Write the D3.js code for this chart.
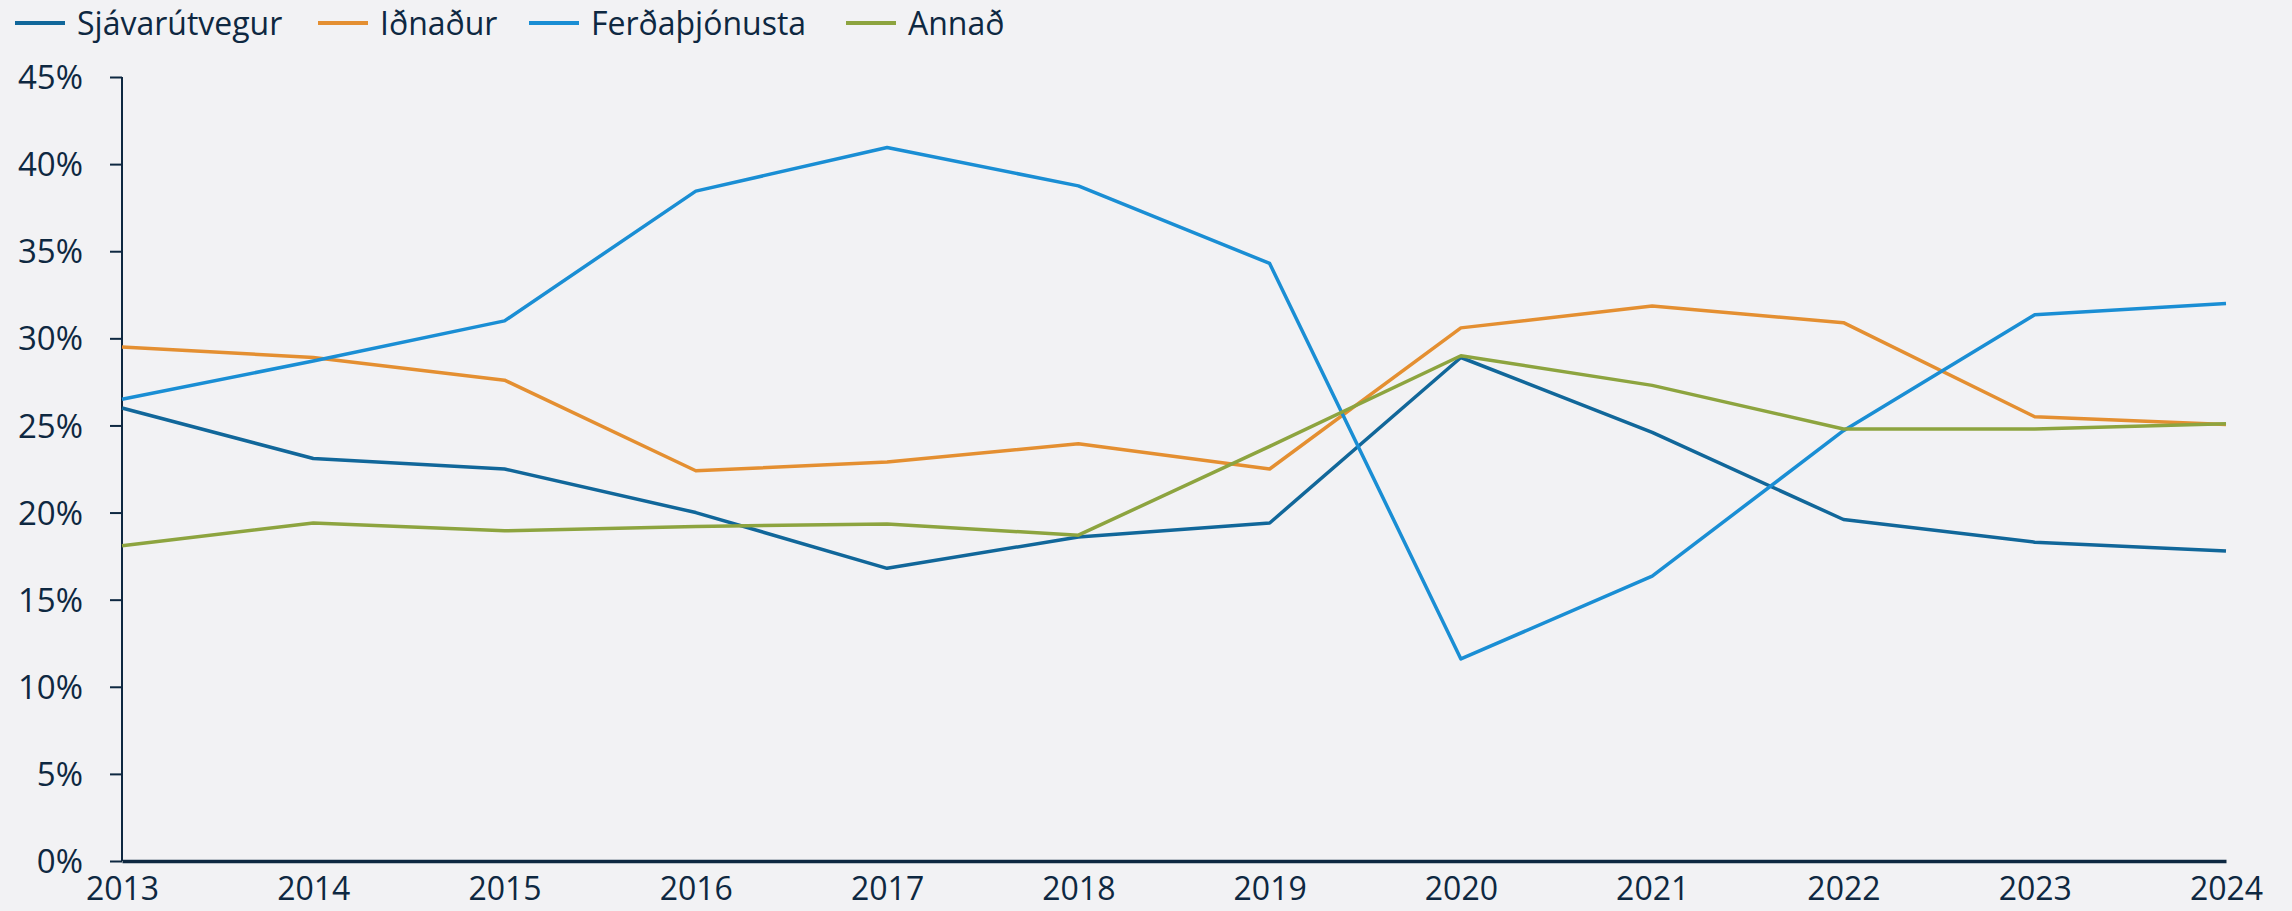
<!DOCTYPE html>
<html>
<head>
<meta charset="utf-8">
<script src="https://cdn.jsdelivr.net/npm/d3@7"></script>
<style>
  html, body { margin: 0; padding: 0; background: #f2f2f4; }
  svg { display: block; }
  text { font-family: "Open Sans", "Liberation Sans", sans-serif; fill: #0e2841; }
</style>
</head>
<body>
<div id="chart"></div>
<script>
// Data
var years = [2013, 2014, 2015, 2016, 2017, 2018, 2019, 2020, 2021, 2022, 2023, 2024];
var seriesNames = ["Sjávarútvegur", "Iðnaður", "Ferðaþjónusta", "Annað"];
var sjavarutvegur = [26.0, 23.1, 22.5, 20.0, 16.8, 18.6, 19.4, 28.9, 24.6, 19.6, 18.3, 17.8];
var idnadur = [29.5, 28.9, 27.6, 22.4, 22.9, 23.95, 22.5, 30.6, 31.85, 30.9, 25.5, 25.05];
var ferdathjonusta = [26.5, 28.7, 31.0, 38.45, 40.95, 38.75, 34.3, 11.6, 16.35, 24.7, 31.35, 32.0];
var annad = [18.1, 19.4, 18.95, 19.2, 19.35, 18.7, 23.8, 29.0, 27.3, 24.8, 24.8, 25.1];
var yTicks = [0, 5, 10, 15, 20, 25, 30, 35, 40, 45];
var colors = ["#11679a", "#e48f31", "#1a8ed4", "#8da43f"];

var seriesValues = [sjavarutvegur, idnadur, ferdathjonusta, annad];

var width = 2292, height = 911;
var margin = { top: 77, right: 66, bottom: 50, left: 122 };
var innerW = width - margin.left - margin.right;
var innerH = height - margin.top - margin.bottom;

var svg = d3.select("#chart")
  .append("svg")
  .attr("width", width)
  .attr("height", height);

var g = svg.append("g")
  .attr("transform", "translate(" + margin.left + "," + margin.top + ")");

// Scales
var xScale = d3.scaleLinear()
  .domain([2013, 2024])
  .range([0, innerW]);

var yScale = d3.scaleLinear()
  .domain([0, 45])
  .range([innerH, 0]);

// Y axis
var yAxis = d3.axisLeft(yScale)
  .tickValues(yTicks)
  .tickSize(12)
  .tickPadding(27)
  .tickFormat(function(d) { return d + "%"; });

var yG = g.append("g").attr("class", "yaxis").call(yAxis);
yG.select(".domain").attr("stroke", "#0e2841").attr("stroke-width", 2)
  .attr("d", "M0," + innerH + "V0");
yG.selectAll(".tick line").attr("stroke", "#0e2841").attr("stroke-width", 2);
yG.selectAll(".tick text")
  .style("font-size", "33px")
  .attr("dy", "0.35em");

// X axis (labels only, no ticks)
var xAxis = d3.axisBottom(xScale)
  .tickValues(years)
  .tickSize(0)
  .tickPadding(16)
  .tickFormat(d3.format("d"));

var xG = g.append("g")
  .attr("class", "xaxis")
  .attr("transform", "translate(0," + innerH + ")")
  .call(xAxis);
xG.select(".domain").attr("stroke", "#0e2841").attr("stroke-width", 3.5);
xG.selectAll(".tick text")
  .style("font-size", "32px")
  .attr("dy", "0.71em");

// Lines
var line = d3.line()
  .x(function(d, i) { return xScale(years[i]); })
  .y(function(d) { return yScale(d); });

g.selectAll(".series")
  .data(seriesValues)
  .enter()
  .append("path")
  .attr("class", "series")
  .attr("fill", "none")
  .attr("stroke", function(d, i) { return colors[i]; })
  .attr("stroke-width", 3.5)
  .attr("stroke-linejoin", "round")
  .attr("d", line);

// Legend
var legendX = [15, 318, 529, 846];
var legend = svg.selectAll(".legend")
  .data(seriesNames)
  .enter()
  .append("g")
  .attr("class", "legend")
  .attr("transform", function(d, i) { return "translate(" + legendX[i] + ",23)"; });

legend.append("line")
  .attr("x1", 0).attr("x2", 50)
  .attr("y1", 0).attr("y2", 0)
  .attr("stroke", function(d, i) { return colors[i]; })
  .attr("stroke-width", 4);

legend.append("text")
  .attr("x", 62)
  .attr("dy", "0.36em")
  .style("font-size", "32px")
  .text(function(d) { return d; });
</script>
</body>
</html>
